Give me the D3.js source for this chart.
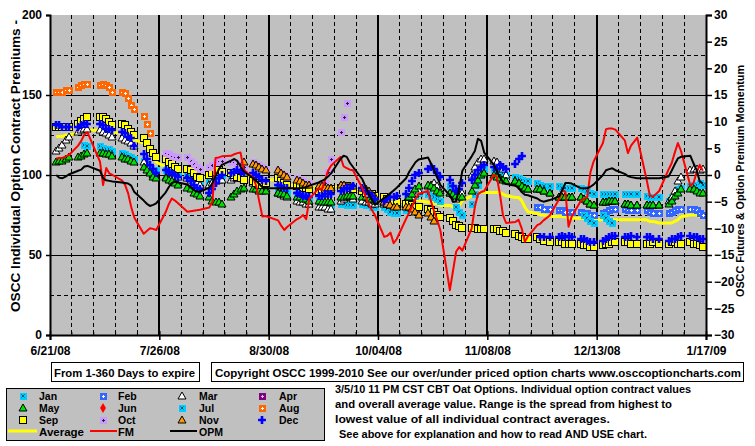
<!DOCTYPE html>
<html><head><meta charset="utf-8">
<script src="https://cdn.jsdelivr.net/npm/d3@7"></script>
<style>
body{margin:0;background:#fff;}
svg{display:block;}
text{font-weight:bold;font-family:"Liberation Sans",Arial,sans-serif;}
</style></head><body>
<svg id="c" width="755" height="446"></svg>
<script>
const _ = null;
// ---------- categories / tick labels ----------
const xTickLabels = ["6/21/08","7/26/08","8/30/08","10/04/08","11/08/08","12/13/08","1/17/09"];
const leftTicks = [0,50,100,150,200];
const rightTicks = [-30,-25,-20,-15,-10,-5,0,5,10,15,20,25,30];
const legendNames = ["Jan","Feb","Mar","Apr","May","Jun","Jul","Aug","Sep","Oct","Nov","Dec"];

// trading days 6/23/08 .. 1/16/09 (weekdays; holidays carry null values)
const tradingDays = [];
for (let t = Date.UTC(2008,5,23); t <= Date.UTC(2009,0,16); t += 864e5) {
  const wd = new Date(t).getUTCDay();
  if (wd > 0 && wd < 6) tradingDays.push(new Date(t));
}

// ---------- series values (left axis, premium) ----------
const jan = [
_,_,_,_,_, _,_,119,118,_, 118,117,116,116,115, 114,113,112,111,110, 109,107,105,103,103,
103,102,102,101,101, 100,99,98,97,96, 96,97,98,99,100, 100,100,99,98,97, 96,95,94,94,93,
_,92,91,90,89, 88,87,87,86,85, 84,83,82,81,81, 82,82,81,81,81, 82,81,81,80,80,
80,79,77,76,76, 78,82,85,87,89, 88,87,86,85,84, 93,90,80,77,75, 82,88,94,100,104,
104,104,103,101,100, 99,98,97,96,96, 95,94,93,_,93, 93,92,92,92,92, 92,91,90,89,88,
88,88,88,88,88, 88,88,88,_,88, 87,86,86,_,86, 84,86,88,91,92, 93,94,94,95,94];
const feb = [
_,_,_,_,_, _,_,_,_,_, _,_,_,_,_, _,_,_,_,_, _,_,_,_,_,
_,_,_,_,_, _,_,_,_,_, _,_,_,_,_, _,_,_,_,_, _,_,_,_,_,
_,_,_,_,_, _,_,_,_,_, _,_,_,_,_, _,_,_,_,_, _,_,_,_,_,
_,_,_,_,_, _,_,_,_,_, _,_,_,_,_, _,_,_,_,_, _,_,_,_,_,
_,_,_,_,_, _,_,_,_,_, 80,80,79,_,79, 78,78,77,77,77, 77,76,76,75,75,
76,77,78,79,79, 79,78,78,_,78, 78,77,76,_,76, 76,77,78,79,79, 79,79,78,76,75];
const mar = [
115,117,119,122,124, 127,128,129,129,_, 128,127,126,125,124, 123,122,121,120,118, 108,105,102,100,99,
99,99,99,99,99, 98,97,96,95,94, 94,95,96,97,97, 97,98,98,98,97, 95,94,93,92,91,
_,89,88,87,86, 84,83,83,82,82, 80,80,80,79,79, 84,85,86,86,85, 84,83,83,82,82,
82,82,81,81,81, 82,84,86,88,90, 93,94,95,93,90, 89,88,85,88,89, 100,105,108,110,110,
109,108,106,104,100, 96,95,93,92,91, 91,91,90,_,89, 86,86,86,86,86, 86,85,84,82,81,
83,83,84,84,84, 82,82,81,_,81, 81,81,81,_,81, 84,86,90,96,99, 103,104,104,103,104];
const apr = tradingDays.map(() => null);
const may = [
108,109,109,110,111, 111,112,113,114,_, 114,114,113,113,112, 111,110,110,109,108, 105,103,101,99,98,
98,97,96,95,94, 92,91,89,88,87, 86,84,83,83,82, 86,88,90,91,92, 91,91,90,90,90,
_,89,88,88,87, 86,86,85,85,84, 84,83,83,83,83, 86,86,87,87,87, 86,86,85,85,84,
83,83,82,82,82, 84,86,88,91,93, 94,93,92,90,89, 89,88,87,86,86, 90,94,97,100,101,
100,99,98,97,96, 96,95,93,92,91, 91,91,90,_,89, 86,86,86,86,86, 86,85,84,82,81,
83,83,84,84,84, 82,82,81,_,81, 81,81,81,_,81, 82,84,87,89,91, 91,91,90,89,89];
const jun = tradingDays.map(() => null);
const jul = [
_,_,_,_,_, _,_,_,_,_, _,_,_,_,_, _,_,_,_,_, _,_,_,_,_,
_,_,_,_,_, _,_,_,_,_, _,_,_,_,_, _,_,_,_,_, _,_,_,_,_,
_,_,_,_,_, _,_,_,_,_, _,_,_,_,_, _,_,_,_,_, _,_,_,_,_,
_,_,_,_,_, _,_,_,_,_, _,_,_,_,_, _,_,_,_,_, _,_,_,_,_,
_,_,_,_,_, _,_,_,_,_, _,_,_,_,_, _,_,_,_,_, _,75,73,71,70,
75,73,71,70,_, _,_,_,_,_, _,_,_,_,_, _,_,_,_,_, _,_,_,_,_];
const aug = [
152,152,152,153,153, 155,156,157,157,_, 156,157,156,155,152, 152,151,148,144,141, 137,132,126,_,_,
_,_,_,_,_, _,_,_,_,_, _,_,_,_,_, _,_,_,_,_, _,_,_,_,_,
_,_,_,_,_, _,_,_,_,_, _,_,_,_,_, _,_,_,_,_, _,_,_,_,_,
_,_,_,_,_, _,_,_,_,_, _,_,_,_,_, _,_,_,_,_, _,_,_,_,_,
_,_,_,_,_, _,_,_,_,_, _,_,_,_,_, _,_,_,_,_, _,_,_,_,_,
_,_,_,_,_, _,_,_,_,_, _,_,_,_,_, _,_,_,_,_, _,_,_,_,_];
const sep = [
130,130,130,130,130, 132,134,135,136,_, 136,136,135,133,131, 132,131,129,127,125, 123,120,116,114,111,
110,108,107,105,104, 104,103,101,99,98, 100,101,102,103,102, 101,100,99,98,97, 96,95,94,94,95,
_,98,96,95,94, 93,93,92,92,91, 90,89,89,90,91, 92,93,93,92,91, 90,89,88,88,87,
86,85,84,84,83, 82,82,81,80,80, 79,78,77,75,74, 73,71,69,68,67, 67,67,66,66,66,
66,66,65,65,64, 63,62,61,60,60, 61,60,59,_,58, 58,58,57,57,57, 57,56,56,55,55,
56,57,57,58,58, 58,58,57,_,57, 57,57,58,_,57, 57,58,58,57,57, 58,57,57,56,55];
const oct = [
_,_,_,_,_, _,_,_,_,_, _,_,_,_,_, _,_,_,_,_, _,_,_,_,_,
114,113,112,111,111, 111,109,107,105,104, 105,106,108,109,109, 108,108,107,106,105, 108,107,106,105,104,
_,103,101,100,99, 98,97,96,95,95, 94,94,95,102,110, 127,136,145,_,_, _,_,_,_,_,
_,_,_,_,_, _,_,_,_,_, _,_,_,_,_, _,_,_,_,_, _,_,_,_,_,
_,_,_,_,_, _,_,_,_,_, _,_,_,_,_, _,_,_,_,_, _,_,_,_,_,
_,_,_,_,_, _,_,_,_,_, _,_,_,_,_, _,_,_,_,_, _,_,_,_,_];
const nov = [
_,_,_,_,_, _,_,_,_,_, _,_,_,_,_, _,_,_,_,_, _,_,_,_,_,
_,_,_,_,_, _,_,_,_,_, _,_,_,_,_, _,_,_,_,108, 107,106,105,104,103,
_,103,101,100,99, 97,96,95,94,94, 93,93,92,92,92, 94,94,93,93,93, 92,91,90,88,86,
83,82,81,80,80, 80,80,79,77,75, 76,74,71,_,_, _,_,_,_,_, _,_,_,_,_,
_,_,_,_,_, _,_,_,_,_, _,_,_,_,_, _,_,_,_,_, _,_,_,_,_,
_,_,_,_,_, _,_,_,_,_, _,_,_,_,_, _,_,_,_,_, _,_,_,_,_];
const dec = [
131,131,130,130,130, 130,131,132,132,_, 132,131,129,129,128, 127,126,124,123,118, 113,110,106,104,101,
103,102,101,100,99, 98,96,94,92,91, 89,91,95,98,100, 101,102,103,102,101, 101,100,99,97,96,
_,94,93,92,92, 89,88,87,87,86, 87,87,88,88,88, 90,91,92,92,93, 92,90,88,87,85,
84,85,86,86,87, 88,92,96,100,101, 104,105,104,101,99, 97,93,90,91,95, 97,100,103,105,106,
105,104,106,105,104, 107,110,112,_,_, _,61,61,_,61, 61,62,61,62,61, 60,60,59,58,58,
59,60,61,62,62, 61,61,62,_,61, 61,61,60,_,60, 59,60,60,61,62, 62,61,61,60,60];
const average = [
124,124,124,125,125, 126,127,127,128,_, 128,128,127,127,127, 126,125,124,123,122, 120,117,114,111,108,
105,104,104,103,102, 102,101,100,99,98, 99,100,101,102,101, 101,100,100,99,99, 98,98,97,97,97,
_,97,96,95,94, 93,93,92,92,92, 92,92,92,92,92, 93,93,92,92,91, 90,89,87,85,84,
83,83,82,82,83, 83,84,85,85,84, 83,83,82,82,81, 81,80,80,81,84, 87,88,89,89,89,
89,89,89,88,87, 86,86,84,80,77, 76,75,75,_,74, 74,74,74,73,73, 73,73,72,72,72,
72,72,72,72,72, 72,72,72,_,72, 72,71,71,_,70, 70,70,71,72,74, 75,75,75,74,74];
// ---------- momentum (right axis) ----------
const fm = [
3.1,3.2,3.2,3.5,3.7, 5.5,6.4,7.6,8.0,_, 2.5,-1.9,1.3,0.3,0, -1.0,-1.8,-3.4,-6.0,-8.0, -11,-10.5,-10,-10.1,-10.3,
-7,-5.5,-4.4,-4.8,-5.3, -6.9,-6.8,-6.7,-6.6,-6.5, -6.1,-5,3.2,3.3,3.5, 3.6,3.9,4.1,4.2,1.0, -0.5,-2,-5,-7.8,-7.7,
_,-8.5,-9.5,-10.3,-9.7, -8.3,-8.0,-7.5,-8.3,-4.5, -2.5,-2.8,-1,0.8,1.8, 3.4,1.6,1.3,1.0,0.9, -2.5,-4,-5.5,-6.5,-7.5,
-11.6,-11.4,-10.8,-12.8,-12.0, -8.2,-7,-5.8,-4.5,-3.5, -3,-5,-6.9,-8.5,-10.5, -21.6,-18,-14.4,-13.5,-14.2, -10,-6,-3.6,-3.2,-3.0,
0,-0.3,-3.5,-7.5,-9, -8.8,-8.4,-10,-12.5,-11.5, -9.4,-9.1,-8.5,_,-7.6, -4.5,-2.8,-3.2,-9.7,-7.8, -4.8,-4.5,-4.1,0.5,2.5,
6,8.6,8.7,8.7,8.5, 6.5,4.1,5.5,_,7, -0.9,-3.8,-4.1,_,-3, 1.0,2.2,4.2,6.0,4.5, -2,-1.5,0.5,1.9,0.8];
const opm = [
0,-0.5,-0.6,-0.3,0.1, 0.8,1.0,1.6,1.7,_, 0.8,-0.6,-1.0,-1.1,-1.2, -1.4,-1.5,-1.6,-2.0,-3.2, -4.8,-5.4,-5.8,-5.6,-5.3,
-3.3,-2.3,-1.5,-1.25,-1.4, -1.8,-2.3,-2.8,-3.1,-3.1, -2.4,-1.5,-0.2,1.0,1.9, 2.7,3.0,2.6,1.6,0.7, -0.6,-1.1,-1.7,-2.3,-2.5,
_,-2.5,-2.5,-2.5,-2.5, -2.5,-2.5,-2.4,-2.3,-2.0, -1.4,-1.1,-0.8,-0.3,0.3, 3.0,3.6,3.4,2.3,1.5, -0.8,-2.2,-3.5,-4.6,-5.6,
-4.3,-3.9,-3.4,-2.9,-2.4, -0.6,0.6,1.5,2.4,2.9, 3.3,2.1,0.9,-0.5,-1.9, -3.8,-5.0,-4.9,-2.5,0.8, 3.5,4.5,6.8,6.4,4.2,
2.0,0.8,-0.4,-1.3,-1.7, -2.0,-2.4,-3.2,-3.7,-3.8, -4.4,-4.8,-5.0,_,-4.7, -4.0,-2.8,-1.5,-1.5,-1.6, -2.5,-2.5,-2.5,-2.2,-1.8,
0,0.9,1.1,1.25,0.9, 0.2,-0.2,-0.4,_,-0.6, -0.6,-0.6,-0.6,_,-0.6, -0.3,0.8,2.0,3.1,3.4, 3.6,2.2,0.9,-1.2,-1.6];

const noteLines = [
  "3/5/10 11 PM CST CBT Oat Options. Individual option contract values",
  "and overall average value. Range is the spread from highest to",
  "lowest value of all individual contract averages.",
  "See above for explanation and how to read AND USE chart."
];

// ---------- drawing ----------
const svg = d3.select("#c");
const L = 50, R = 706, T = 15, B = 335;
const x = d3.scaleUtc().domain([new Date(Date.UTC(2008,5,21)), new Date(Date.UTC(2009,0,17))]).range([L, R]);
const yL = d3.scaleLinear().domain([0,200]).range([B, T]);
const yR = d3.scaleLinear().domain([-30,30]).range([B, T]);
const parseLbl = s => { const [m,d,y] = s.split("/").map(Number); return new Date(Date.UTC(2000+y, m-1, d)); };
const majorDates = xTickLabels.map(parseLbl);
const weekDates = [];
for (let t = +majorDates[0]; t <= +majorDates[majorDates.length-1]; t += 7*864e5) weekDates.push(new Date(t));

svg.append("rect").attr("x",L).attr("y",T).attr("width",R-L).attr("height",B-T).attr("fill","#c0c0c0");

const grid = svg.append("g");
[25,75,125,175].forEach(v => grid.append("line").attr("x1",L).attr("x2",R).attr("y1",yL(v)).attr("y2",yL(v))
  .attr("stroke","#000").attr("stroke-dasharray","4,3").attr("shape-rendering","crispEdges"));
[50,100,150].forEach(v => grid.append("line").attr("x1",L).attr("x2",R).attr("y1",yL(v)).attr("y2",yL(v))
  .attr("stroke","#000").attr("shape-rendering","crispEdges"));
weekDates.forEach(d => {
  if (majorDates.some(m => +m === +d)) return;
  grid.append("line").attr("x1",x(d)).attr("x2",x(d)).attr("y1",T).attr("y2",B)
    .attr("stroke","#000").attr("stroke-dasharray","4,3").attr("shape-rendering","crispEdges");
});
majorDates.slice(1,-1).forEach(d => grid.append("line").attr("x1",x(d)).attr("x2",x(d)).attr("y1",T).attr("y2",B)
  .attr("stroke","#000").attr("stroke-width",2).attr("shape-rendering","crispEdges"));

// ---------- lines helper ----------
function drawLine(vals, yScale, color, w) {
  const pts = vals.map((v,i) => [tradingDays[i], v]).filter(p => p[1] != null);
  svg.append("path").datum(pts)
    .attr("d", d3.line().x(p => x(p[0])).y(p => yScale(p[1])))
    .attr("fill","none").attr("stroke",color).attr("stroke-width",w).attr("stroke-linejoin","round");
}
// average line sits behind the markers
drawLine(average, yL, "#ffff00", 3);

// ---------- markers ----------
function marker(g, type, cx, cy) {
  const sq = (fill, stroke, s) => g.append("rect").attr("x",cx-s/2).attr("y",cy-s/2).attr("width",s).attr("height",s)
      .attr("fill",fill).attr("stroke",stroke||"none").attr("shape-rendering","crispEdges");
  const plus = (col) => g.append("path").attr("d",`M${cx-1.5},${cy}H${cx+1.5}M${cx},${cy-1.5}V${cy+1.5}`)
      .attr("stroke",col).attr("stroke-width",1).attr("fill","none").attr("shape-rendering","crispEdges");
  const xx = (col) => g.append("path").attr("d",`M${cx-1.5},${cy-1.5}L${cx+1.5},${cy+1.5}M${cx+1.5},${cy-1.5}L${cx-1.5},${cy+1.5}`)
      .attr("stroke",col).attr("stroke-width",1).attr("fill","none");
  const tri = (fill) => g.append("path").attr("d",`M${cx},${cy-4}L${cx+4},${cy+3}L${cx-4},${cy+3}Z`)
      .attr("fill",fill).attr("stroke","#000").attr("stroke-width",1);
  switch(type){
    case "Jan": case "Jul": sq("#00ccff",null,7); xx("#00506e"); break;
    case "Feb": sq("#3366ff",null,7); plus("#fff"); break;
    case "Mar": tri("#ffffff"); break;
    case "Apr": sq("#800080",null,7); plus("#e0c0e0"); break;
    case "May": tri("#00e000"); break;
    case "Jun": g.append("path").attr("d",d3.symbol(d3.symbolDiamond,30)()).attr("transform",`translate(${cx},${cy})`).attr("fill","#ff0000"); break;
    case "Aug": sq("#ff6600",null,7); plus("#fff"); break;
    case "Sep": sq("#ffff00","#000",7); break;
    case "Oct": sq("#cc99ff",null,7); plus("#222"); break;
    case "Nov": tri("#ff9900"); break;
    case "Dec": g.append("path").attr("d",d3.symbol(d3.symbolCross,34)()).attr("transform",`translate(${cx},${cy})`).attr("fill","#0000ff"); break;
  }
}
const seriesList = {Jan:jan,Feb:feb,Mar:mar,Apr:apr,May:may,Jun:jun,Jul:jul,Aug:aug,Sep:sep,Oct:oct,Nov:nov,Dec:dec};
const plotG = svg.append("g");
legendNames.forEach(name => {
  const g = plotG.append("g");
  seriesList[name].forEach((v,i) => { if (v != null) marker(g, name, Math.round(x(tradingDays[i])), Math.round(yL(v))); });
});

drawLine(fm, yR, "#ff0000", 2);
drawLine(opm, yR, "#000000", 2);

// ---------- axes ----------
const axL = svg.append("g").attr("transform",`translate(${L},0)`)
  .call(d3.axisLeft(yL).tickValues(leftTicks).tickSize(4).tickPadding(4));
const axR = svg.append("g").attr("transform",`translate(${R},0)`)
  .call(d3.axisRight(yR).tickValues(rightTicks).tickSize(6).tickPadding(2));
const axB = svg.append("g").attr("transform",`translate(0,${B})`)
  .call(d3.axisBottom(x).tickValues(majorDates).tickFormat((d,i) => xTickLabels[i]).tickSize(5).tickPadding(6));
[axL,axR,axB].forEach(a => {
  a.attr("font-family",null).attr("font-size",null);
  a.select(".domain").attr("stroke","#000").attr("stroke-width",2);
  a.selectAll(".tick line").attr("stroke","#000").attr("stroke-width",1.5);
  a.selectAll("text").attr("fill","#000").style("font-size","12px").style("font-weight","bold");
});
axB.selectAll(".tick line").attr("y1",-4).attr("y2",5);
axB.selectAll("text").attr("y",11);
weekDates.forEach(d => { if (!majorDates.some(m => +m === +d))
  svg.append("line").attr("x1",x(d)).attr("x2",x(d)).attr("y1",B-3).attr("y2",B).attr("stroke","#000"); });

// axis titles
svg.append("text").attr("transform","translate(20,166) rotate(-90)")
  .attr("text-anchor","middle").attr("font-size",12).attr("textLength",292).attr("lengthAdjust","spacingAndGlyphs")
  .text("OSCC Individual Option Contract Premiums -");
svg.append("text").attr("transform","translate(744,181) rotate(-90)")
  .attr("text-anchor","middle").attr("font-size",11).attr("textLength",232).attr("lengthAdjust","spacingAndGlyphs")
  .text("OSCC Futures & Option Premium Momentum");

// boxes
svg.append("rect").attr("x",51.5).attr("y",362.5).attr("width",148).attr("height",19).attr("fill","#fff").attr("stroke","#000");
svg.append("text").attr("x",54).attr("y",377).attr("font-size",11.5).attr("textLength",141)
  .attr("lengthAdjust","spacingAndGlyphs").text("From 1-360 Days to expire");
svg.append("rect").attr("x",211.5).attr("y",362.5).attr("width",532).attr("height",19).attr("fill","#fff").attr("stroke","#000");
svg.append("text").attr("x",215).attr("y",377).attr("font-size",10.8).attr("textLength",526)
  .attr("lengthAdjust","spacingAndGlyphs").text("Copyright OSCC 1999-2010 See our over/under priced option charts www.osccoptioncharts.com");

// notes
const noteX = [335,335,335,339], noteW = [356,337,275,308], noteY = [393,408,423,438];
noteLines.forEach((s,i) => svg.append("text").attr("x",noteX[i]).attr("y",noteY[i])
  .attr("font-size",11).attr("textLength",noteW[i]).attr("lengthAdjust","spacingAndGlyphs").text(s));

// legend
svg.append("rect").attr("x",6.5).attr("y",388.5).attr("width",318).attr("height",52).attr("fill","#c0c0c0").attr("stroke","#000");
const colMx = [23,103,182,262], colTx = [39,118,199,279], rowMy = [396,408,420], rowTy = [399.5,411.5,423.5];
const lg = svg.append("g");
legendNames.forEach((n,i) => {
  const r = Math.floor(i/4), c = i%4;
  marker(lg, n, colMx[c], rowMy[r]);
  lg.append("text").attr("x",colTx[c]).attr("y",rowTy[r]).attr("font-size",10.5).text(n);
});
const lineLeg = [["Average","#ffff00",3,8,37,39,45],["FM","#ff0000",2,90,117,118,16],["OPM","#000",2,170,197,199,24]];
lineLeg.forEach(([n,col,w,x1,x2,tx,tw]) => {
  lg.append("line").attr("x1",x1).attr("x2",x2).attr("y1",431).attr("y2",431).attr("stroke",col).attr("stroke-width",w);
  lg.append("text").attr("x",tx).attr("y",435.5).attr("font-size",10.5).attr("textLength",tw)
    .attr("lengthAdjust","spacingAndGlyphs").text(n);
});
</script>
</body></html>
